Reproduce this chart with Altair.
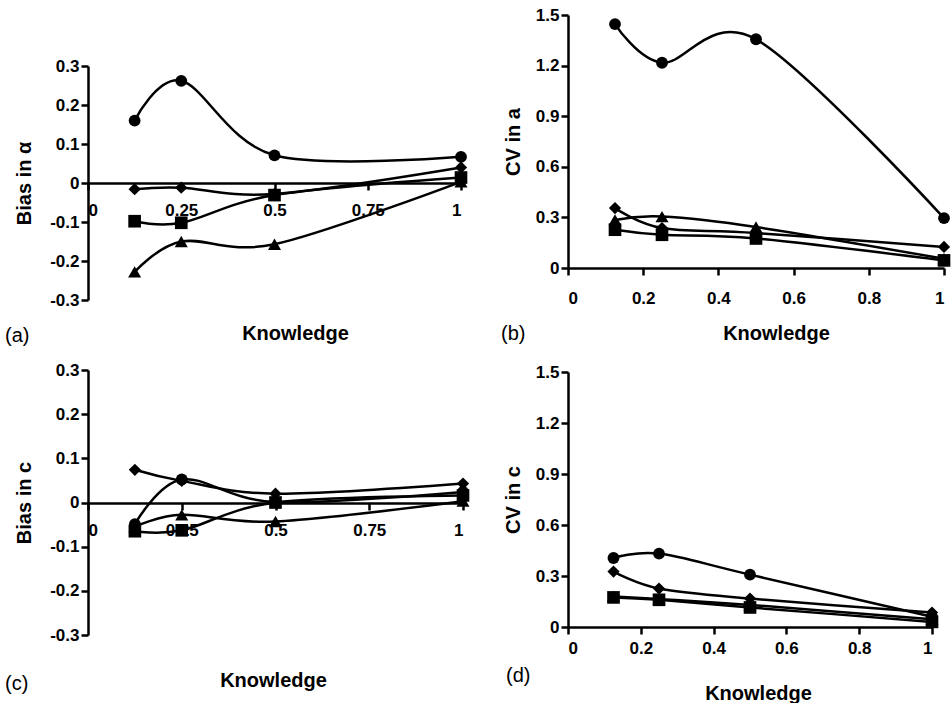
import altair as alt
import pandas as pd

# ---------------- data ----------------
knowledge = [0.125, 0.25, 0.5, 1.0]
series_names = ["circle", "diamond", "square", "triangle"]

# (a) Bias in alpha
bias_a_circle = [0.160, 0.262, 0.071, 0.067]
bias_a_diamond = [-0.016, -0.012, -0.028, 0.040]
bias_a_square = [-0.098, -0.102, -0.031, 0.014]
bias_a_triangle = [-0.228, -0.150, -0.157, 0.003]

# (b) CV in a
cv_a_circle = [1.446, 1.217, 1.356, 0.296]
cv_a_diamond = [0.355, 0.237, 0.207, 0.125]
cv_a_square = [0.227, 0.197, 0.175, 0.045]
cv_a_triangle = [0.285, 0.305, 0.243, 0.055]

# (c) Bias in c
bias_c_circle = [-0.049, 0.052, 0.001, 0.024]
bias_c_diamond = [0.074, 0.049, 0.020, 0.043]
bias_c_square = [-0.065, -0.063, 0.000, 0.016]
bias_c_triangle = [-0.055, -0.028, -0.043, 0.003]

# (d) CV in c
cv_c_circle = [0.406, 0.432, 0.308, 0.060]
cv_c_diamond = [0.326, 0.226, 0.167, 0.085]
cv_c_square = [0.174, 0.160, 0.115, 0.030]
cv_c_triangle = [0.180, 0.165, 0.130, 0.045]

bias_ticks = [-0.3, -0.2, -0.1, 0, 0.1, 0.2, 0.3]
cv_ticks = [0, 0.3, 0.6, 0.9, 1.2, 1.5]
x_ticks_bias = [0, 0.25, 0.5, 0.75, 1]
x_ticks_cv = [0, 0.2, 0.4, 0.6, 0.8, 1]

shapes = ["circle", "diamond", "square", "triangle-up"]
marker_sizes = [140, 170, 120, 170]

FONT = "Liberation Sans"


def make_df(c, d, s, t):
    rows = []
    for name, vals in zip(series_names, [c, d, s, t]):
        for k, v in zip(knowledge, vals):
            rows.append({"k": k, "v": v, "series": name})
    return pd.DataFrame(rows)


def panel(df, ytitle, ydomain, yticks, xticks, width, height, yrange,
          xoffset, xlabelpad, xtitle_x, xtitle_y, label, label_dx, label_dy,
          ytitle_pad):
    if yrange is not None:
        yscale = alt.Scale(domain=ydomain, nice=False, zero=False, range=yrange)
    else:
        yscale = alt.Scale(domain=ydomain, nice=False, zero=False)
    x = alt.X(
        "k:Q",
        scale=alt.Scale(domain=[0, 1], nice=False, zero=False),
        axis=alt.Axis(
            values=xticks, labelExpr="'' + datum.value", title="Knowledge",
            offset=xoffset, tickSize=7, labelPadding=xlabelpad,
            titleX=xtitle_x, titleY=xtitle_y, titleAlign="center",
            titleBaseline="middle", grid=False,
        ),
    )
    y = alt.Y(
        "v:Q", scale=yscale,
        axis=alt.Axis(values=yticks, labelExpr="'' + datum.value", title=ytitle,
                      tickSize=7, labelPadding=2, titlePadding=ytitle_pad, grid=False),
    )
    base = alt.Chart(df)
    lines = base.mark_line(interpolate="cardinal", color="black", strokeWidth=2.5).encode(
        x=x, y=y, detail="series:N")
    pts = base.mark_point(filled=True, opacity=1, color="black").encode(
        x=x, y=y,
        shape=alt.Shape("series:N", scale=alt.Scale(domain=series_names, range=shapes), legend=None),
        size=alt.Size("series:N", scale=alt.Scale(domain=series_names, range=marker_sizes), legend=None),
    )
    return alt.layer(lines, pts).properties(
        width=width, height=height,
        title=alt.TitleParams(label, orient="bottom", anchor="start", frame="group",
                              dx=label_dx, dy=label_dy, fontSize=20, fontWeight="normal",
                              font=FONT, color="black", offset=0),
    )


pa = panel(make_df(bias_a_circle, bias_a_diamond, bias_a_square, bias_a_triangle),
           "Bias in \u03b1", [-0.3, 0.3], bias_ticks, x_ticks_bias, 373, 285, [285, 51],
           -117, 12, 207, 150, "(a)", -83, -17, 15)
pb = panel(make_df(cv_a_circle, cv_a_diamond, cv_a_square, cv_a_triangle),
           "CV in a", [0, 1.5], cv_ticks, x_ticks_cv, 376, 253, None,
           0, 15, 208, 65, "(b)", -67, -19, 12)
pc = panel(make_df(bias_c_circle, bias_c_diamond, bias_c_square, bias_c_triangle),
           "Bias in c", [-0.3, 0.3], bias_ticks, x_ticks_bias, 375, 265, None,
           -132, 12, 185, 177, "(c)", -83, -16, 15)
pd_ = panel(make_df(cv_c_circle, cv_c_diamond, cv_c_square, cv_c_triangle),
            "CV in c", [0, 1.5], cv_ticks, x_ticks_cv, 364, 257, [257, 2],
            0, 6, 190, 66, "(d)", -62, -37, 12)

chart = alt.concat(pa, pb, pc, pd_, columns=2, bounds="flush",
                   spacing={"row": 70, "column": 105}).resolve_scale(
    x="independent", y="independent"
).properties(
    padding={"left": 5, "top": 6, "right": 0, "bottom": 0},
    background="white",
).configure_view(stroke=None).configure_axis(
    domainColor="black", domainWidth=2.5, tickColor="black", tickWidth=2.5,
    labelFont=FONT, labelFontSize=17, labelFontWeight="bold", labelColor="black",
    titleFont=FONT, titleFontSize=20, titleFontWeight="bold", titleColor="black",
)

chart.save("out.html", embed_options={"renderer": "svg", "actions": False})
